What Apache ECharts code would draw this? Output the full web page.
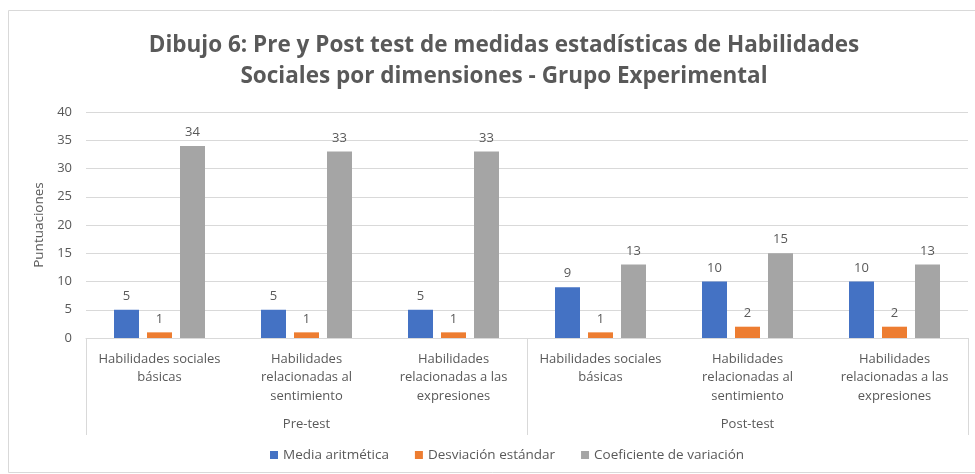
<!DOCTYPE html>
<html>
<head>
<meta charset="utf-8">
<script src="https://cdn.jsdelivr.net/npm/echarts@6/dist/echarts.min.js"></script>
<style>
  html, body { margin: 0; padding: 0; background: #fff; }
  #chart { width: 975px; height: 474px; }
</style>
</head>
<body>
<div id="chart"></div>
<script>
var categorias = [
  'Habilidades sociales\nbásicas',
  'Habilidades\nrelacionadas al\nsentimiento',
  'Habilidades\nrelacionadas a las\nexpresiones',
  'Habilidades sociales\nbásicas',
  'Habilidades\nrelacionadas al\nsentimiento',
  'Habilidades\nrelacionadas a las\nexpresiones'
];
var grupos = ['Pre-test', 'Post-test'];
var media = [5, 5, 5, 9, 10, 10];
var desviacion = [1, 1, 1, 1, 2, 2];
var coeficiente = [34, 33, 33, 13, 15, 13];

var gris = '#595959';
var fuente = '"Open Sans", "Noto Sans", sans-serif';

var etiqueta = {
  show: true,
  position: 'top',
  distance: 7,
  color: gris,
  fontSize: 13,
  fontFamily: fuente
};

var myChart = echarts.init(document.getElementById('chart'));
myChart.setOption({
  textStyle: { fontFamily: fuente },
  title: {
    text: 'Dibujo 6: Pre y Post test de medidas estadísticas de Habilidades\nSociales por dimensiones - Grupo Experimental',
    left: 499,
    top: 25,
    textAlign: 'center',
    textStyle: {
      color: gris,
      fontSize: 22.5,
      fontWeight: 'bold',
      lineHeight: 31,
      fontFamily: fuente
    }
  },
  graphic: [{
    type: 'rect',
    shape: { x: 8.5, y: 10.5, width: 980, height: 462 },
    style: { fill: 'none', stroke: '#d9d9d9', lineWidth: 1 },
    silent: true
  }],
  legend: {
    bottom: 7,
    left: 265,
    itemWidth: 8,
    itemHeight: 8,
    itemGap: 26,
    icon: 'rect',
    textStyle: { color: gris, fontSize: 13.5, fontFamily: fuente },
    data: ['Media aritmética', 'Desviación estándar', 'Coeficiente de variación']
  },
  grid: { left: 86, right: 7, top: 112, bottom: 136 },
  xAxis: [{
    type: 'category',
    data: categorias,
    position: 'bottom',
    axisLine: { lineStyle: { color: '#d9d9d9' } },
    axisTick: { show: false },
    axisLabel: {
      interval: 0,
      margin: 12,
      color: gris,
      fontSize: 13,
      lineHeight: 18.5,
      fontFamily: fuente
    }
  }, {
    type: 'category',
    data: grupos,
    position: 'bottom',
    axisLine: { show: false },
    axisTick: { show: true, length: 97, lineStyle: { color: '#d9d9d9' } },
    axisLabel: {
      margin: 80,
      color: gris,
      fontSize: 13,
      fontFamily: fuente
    }
  }],
  yAxis: {
    type: 'value',
    min: 0,
    max: 40,
    interval: 5,
    name: 'Puntuaciones',
    nameLocation: 'middle',
    nameGap: 38,
    nameTextStyle: { color: gris, fontSize: 13.5, fontFamily: fuente },
    axisLine: { show: false },
    axisTick: { show: false },
    axisLabel: { color: gris, fontSize: 13, margin: 14, fontFamily: fuente },
    splitLine: { lineStyle: { color: '#d9d9d9' } }
  },
  series: [{
    name: 'Media aritmética',
    type: 'bar',
    barWidth: 25,
    barGap: '32%',
    itemStyle: { color: '#4472c4' },
    label: etiqueta,
    data: media
  }, {
    name: 'Desviación estándar',
    type: 'bar',
    barWidth: 25,
    barGap: '32%',
    itemStyle: { color: '#ed7d31' },
    label: etiqueta,
    data: desviacion
  }, {
    name: 'Coeficiente de variación',
    type: 'bar',
    barWidth: 25,
    barGap: '32%',
    itemStyle: { color: '#a5a5a5' },
    label: etiqueta,
    data: coeficiente
  }]
});
</script>
</body>
</html>
